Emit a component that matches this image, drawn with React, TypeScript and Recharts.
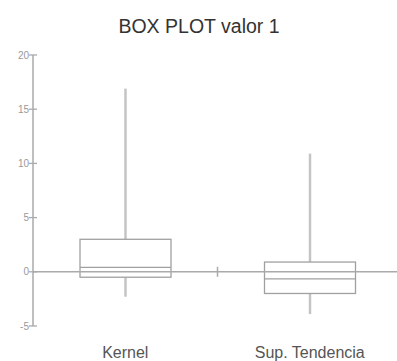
import React from "react";
import { ComposedChart, Bar, XAxis, YAxis, ReferenceLine } from "recharts";

const categories = ["Kernel", "Sup. Tendencia"];
const minVals = [-2.3, -3.9];
const q1Vals = [-0.5, -2.0];
const medianVals = [0.4, -0.65];
const q3Vals = [3.0, 0.9];
const maxVals = [16.9, 10.9];
const yTicks = [-5, 0, 5, 10, 15, 20];

const data = categories.map((name, i) => ({
  name,
  range: [minVals[i], maxVals[i]],
  min: minVals[i],
  q1: q1Vals[i],
  median: medianVals[i],
  q3: q3Vals[i],
  max: maxVals[i],
}));

const FONT = "'Liberation Sans', Arial, sans-serif";

function BoxShape(props: any) {
  const { x, y, width, height, payload } = props;
  const top = Math.min(y, y + height);
  const bottom = Math.max(y, y + height);
  const ppu = (bottom - top) / (payload.max - payload.min);
  const yOf = (v: number) => top + (payload.max - v) * ppu;
  const cx = x + width / 2;
  const yq3 = yOf(payload.q3);
  const yq1 = yOf(payload.q1);
  const ymed = yOf(payload.median);
  return (
    <g>
      <line x1={cx} x2={cx} y1={top} y2={yq3} stroke="#c4c4c4" strokeWidth={2.5} />
      <line x1={cx} x2={cx} y1={yq1} y2={bottom} stroke="#c4c4c4" strokeWidth={2.5} />
      <rect x={x} y={yq3} width={width} height={yq1 - yq3} fill="none" stroke="#a0a0a0" strokeWidth={1.3} />
      <line x1={x} x2={x + width} y1={ymed} y2={ymed} stroke="#a0a0a0" strokeWidth={1.3} />
    </g>
  );
}

// zero line with the small category-boundary tick in the middle
function ZeroLine(props: any) {
  const { x1, x2, y1, y2 } = props;
  const mx = (x1 + x2) / 2;
  return (
    <g>
      <line x1={x1} x2={x2} y1={y1} y2={y2} stroke="#aaa" strokeWidth={1.5} />
      <line x1={mx} x2={mx} y1={y1 - 5} y2={y1 + 5} stroke="#aaa" strokeWidth={1.5} />
    </g>
  );
}

function YTick(props: any) {
  const { x, y, payload } = props;
  return (
    <g>
      <line x1={x - 4} x2={x + 4} y1={y} y2={y} stroke="#aaa" strokeWidth={1.3} />
      <text x={x - 4} y={y} dy="0.35em" textAnchor="end" fontSize={10} fill="#999" fontFamily={FONT}>
        {payload.value}
      </text>
    </g>
  );
}

export default function App() {
  return (
    <div style={{ position: "absolute", left: 0, top: 0, width: 397, height: 361, overflow: "hidden", background: "#fff" }}>
      <svg style={{ position: "absolute", left: 0, top: 0 }} width={397} height={45}>
        <text x={199} y={33} textAnchor="middle" fontSize={19.5} fill="#333" fontFamily={FONT}>
          BOX PLOT valor 1
        </text>
      </svg>
      <div style={{ position: "absolute", left: 0, top: 0 }}>
        <ComposedChart width={402} height={361} data={data} margin={{ top: 55, right: 0, bottom: 0, left: 0 }}>
          <XAxis
            dataKey="name"
            height={35}
            axisLine={false}
            tickLine={false}
            tickSize={0}
            tickMargin={21}
            tick={{ fontSize: 16, fill: "#555", fontFamily: FONT }}
          />
          <YAxis
            domain={[-5, 20]}
            ticks={yTicks}
            width={33}
            tickLine={false}
            tickSize={0}
            tickMargin={0}
            axisLine={{ stroke: "#aaa", strokeWidth: 1.5 }}
            tick={<YTick />}
            interval={0}
          />
          <ReferenceLine y={0} stroke="#aaa" strokeWidth={1.5} shape={<ZeroLine />} />
          <Bar dataKey="range" barSize={91} shape={<BoxShape />} isAnimationActive={false} />
        </ComposedChart>
      </div>
    </div>
  );
}
